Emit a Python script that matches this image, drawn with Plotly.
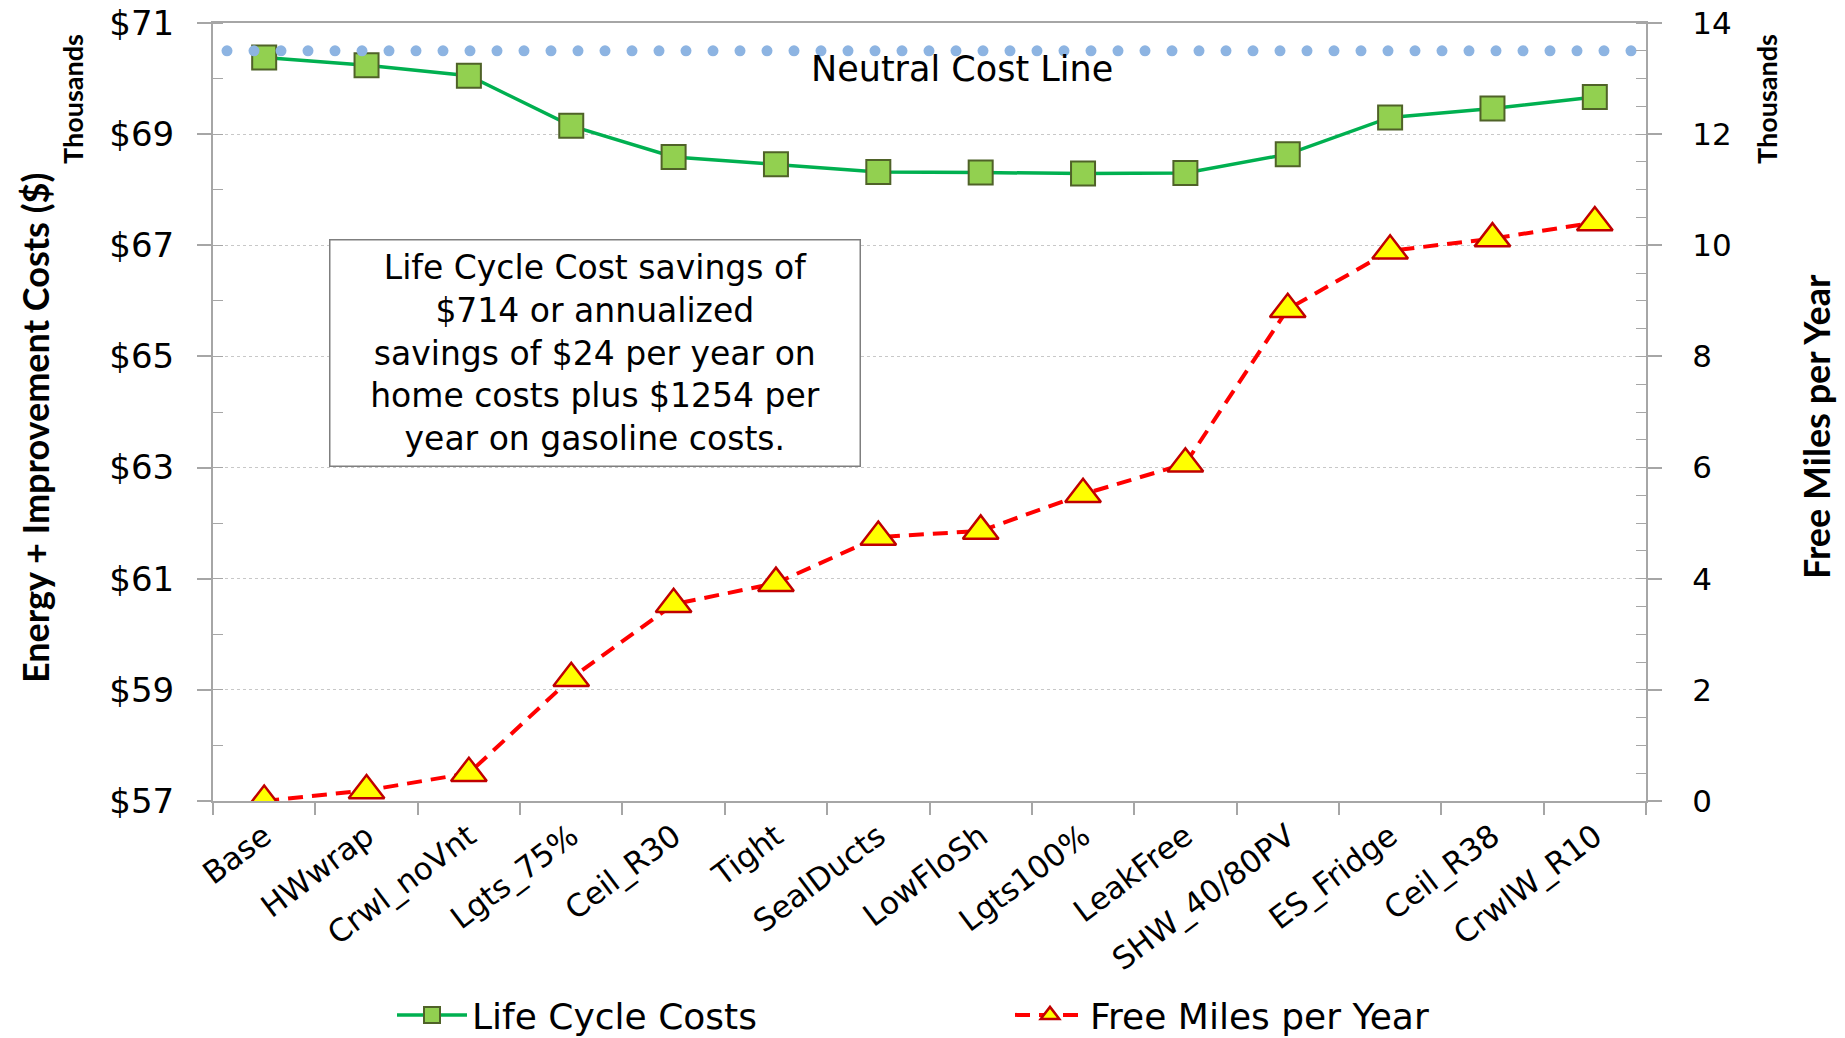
import numpy as np
import plotly.graph_objects as go

# ---------------- data ----------------
categories = ["Base", "HWwrap", "Crwl_noVnt", "Lgts_75%", "Ceil_R30", "Tight",
              "SealDucts", "LowFloSh", "Lgts100%", "LeakFree", "SHW_40/80PV",
              "ES_Fridge", "Ceil_R38", "CrwlW_R10"]
life_cycle_costs = [70.38, 70.24, 70.05, 69.15, 68.59, 68.46, 68.32,
                    68.31, 68.29, 68.30, 68.64, 69.30, 69.46, 69.67]   # thousands $
free_miles = [0.0, 0.19, 0.50, 2.21, 3.54, 3.92, 4.75,
              4.86, 5.52, 6.07, 8.85, 9.90, 10.12, 10.41]              # thousands
neutral_cost = 70.5
left_tick_vals = [57, 59, 61, 63, 65, 67, 69, 71]
left_tick_text = ["$57", "$59", "$61", "$63", "$65", "$67", "$69", "$71"]
right_tick_vals = [0, 2, 4, 6, 8, 10, 12, 14]
right_tick_text = ["0", "2", "4", "6", "8", "10", "12", "14"]
note_lines = ["Life Cycle Cost savings of", "$714 or annualized",
              "savings of $24 per year on", "home costs plus $1254 per",
              "year on gasoline costs."]

# ---------------- style ----------------
FONT = "DejaVu Sans"
TITLE_FONT = "Lato"
AX_GRAY = "#A6A6A6"
GRID = "#C8C8C8"

W, H = 1845, 1038
# plot area in page pixels: x 213..1646, y 23..801
L, T = 213, 23
R, B = W - 1646, H - 801
pw, ph = W - L - R, H - T - B


def px_x(px):
    return (px - L) / pw


def px_y(py):
    return 1 - (py - T) / ph


fig = go.Figure()

# neutral cost dotted line (round dots)
n_dots = 53
fig.add_trace(go.Scatter(
    x=np.linspace(px_x(227), px_x(1631), n_dots), y=[neutral_cost] * n_dots,
    xaxis="x3", yaxis="y", mode="markers",
    marker=dict(symbol="circle", size=11, color="#8DB4E2", line=dict(width=0)),
    showlegend=False, hoverinfo="skip"))

fig.add_trace(go.Scatter(
    x=categories, y=life_cycle_costs, name="Life Cycle Costs",
    mode="lines+markers", xaxis="x", yaxis="y",
    line=dict(color="#00B050", width=3.5),
    marker=dict(symbol="square", size=24, color="#92D050",
                line=dict(color="#4F6228", width=2)),
    legend="legend"))

fig.add_trace(go.Scatter(
    x=categories, y=free_miles, name="Free Miles per Year",
    mode="lines+markers", xaxis="x", yaxis="y2",
    line=dict(color="#FF0000", width=4, dash="15px,9px"),
    marker=dict(symbol="triangle-up", size=31, color="#FFFF00",
                line=dict(color="#C00000", width=2.5)),
    legend="legend2"))

fig.update_layout(
    width=W, height=H,
    margin=dict(l=L, r=R, t=T, b=B, autoexpand=False),
    paper_bgcolor="white", plot_bgcolor="white",
    font=dict(family=FONT, color="#000000"),
    xaxis=dict(
        type="category", range=[-0.5, len(categories) - 0.5], automargin=False,
        showline=True, linecolor=AX_GRAY, linewidth=2, mirror=True,
        ticks="outside", ticklen=12, tickcolor=AX_GRAY, tickwidth=1.5,
        tickson="boundaries", showgrid=False, tickangle=-37,
        ticklabelstandoff=3, ticklabeloverflow="allow",
        tickfont=dict(family=FONT, size=31, color="#000000"),
        zeroline=False),
    xaxis3=dict(overlaying="x", range=[0, 1], visible=False),
    yaxis=dict(
        range=[57, 71], tickvals=left_tick_vals, ticktext=left_tick_text,
        automargin=False, ticklabeloverflow="allow",
        showline=True, linecolor=AX_GRAY, linewidth=2,
        ticks="outside", ticklen=14, tickcolor=AX_GRAY, tickwidth=1.5,
        ticklabelstandoff=16,
        showgrid=True, gridcolor=GRID, gridwidth=1.2, griddash="dot",
        tickfont=dict(family=FONT, size=34, color="#000000"),
        minor=dict(ticks="inside", ticklen=10, dtick=1, tick0=57,
                   tickcolor=AX_GRAY, tickwidth=1.2, showgrid=False),
        zeroline=False),
    yaxis2=dict(
        overlaying="y", side="right", range=[0, 14], automargin=False,
        tickvals=right_tick_vals, ticktext=right_tick_text,
        ticklabeloverflow="allow",
        showline=True, linecolor=AX_GRAY, linewidth=2,
        ticks="outside", ticklen=14, tickcolor=AX_GRAY, tickwidth=1.5,
        ticklabelstandoff=24,
        showgrid=False,
        tickfont=dict(family=FONT, size=31, color="#000000"),
        minor=dict(ticks="inside", ticklen=10, dtick=0.5, tick0=0,
                   tickcolor=AX_GRAY, tickwidth=1.2, showgrid=False),
        zeroline=False),
    legend=dict(orientation="h", x=px_x(392), y=px_y(1015), xanchor="left",
                yanchor="middle", font=dict(family=FONT, size=36),
                itemwidth=70, bgcolor="rgba(0,0,0,0)"),
    legend2=dict(orientation="h", x=px_x(1010), y=px_y(1015), xanchor="left",
                 yanchor="middle", font=dict(family=FONT, size=36),
                 itemwidth=70, bgcolor="rgba(0,0,0,0)"),
)

annotations = [
    dict(text="Neutral Cost Line", x=px_x(962), y=px_y(69), xref="paper", yref="paper",
         showarrow=False, xanchor="center", yanchor="middle",
         font=dict(family=FONT, size=35, color="#000000")),
    dict(text="<br>".join(note_lines), x=px_x(594.5), y=px_y(353.5),
         xref="paper", yref="paper", showarrow=False, xanchor="center",
         yanchor="middle", align="center", width=519, height=215, borderpad=5,
         bordercolor="#7F7F7F", borderwidth=1.5, bgcolor="white",
         font=dict(family=FONT, size=33, color="#000000")),
    dict(text="<b>Energy + Improvement Costs ($)</b>", x=px_x(35), y=px_y(428),
         xref="paper", yref="paper", showarrow=False, textangle=-90,
         xanchor="center", yanchor="middle",
         font=dict(family=TITLE_FONT, size=36, color="#000000")),
    dict(text="<b>Thousands</b>", x=px_x(73), y=px_y(99),
         xref="paper", yref="paper", showarrow=False, textangle=-90,
         xanchor="center", yanchor="middle",
         font=dict(family=TITLE_FONT, size=27, color="#000000")),
    dict(text="<b>Thousands</b>", x=px_x(1767), y=px_y(99),
         xref="paper", yref="paper", showarrow=False, textangle=-90,
         xanchor="center", yanchor="middle",
         font=dict(family=TITLE_FONT, size=27, color="#000000")),
    dict(text="<b>Free Miles per Year</b>", x=px_x(1816), y=px_y(426),
         xref="paper", yref="paper", showarrow=False, textangle=-90,
         xanchor="center", yanchor="middle",
         font=dict(family=TITLE_FONT, size=36, color="#000000")),
]
fig.update_layout(annotations=annotations)

# remove the default 8px page margin so the figure fills the window exactly
fig.write_html("out.html", config={"displayModeBar": False},
               post_script="document.body.style.margin='0px';")
